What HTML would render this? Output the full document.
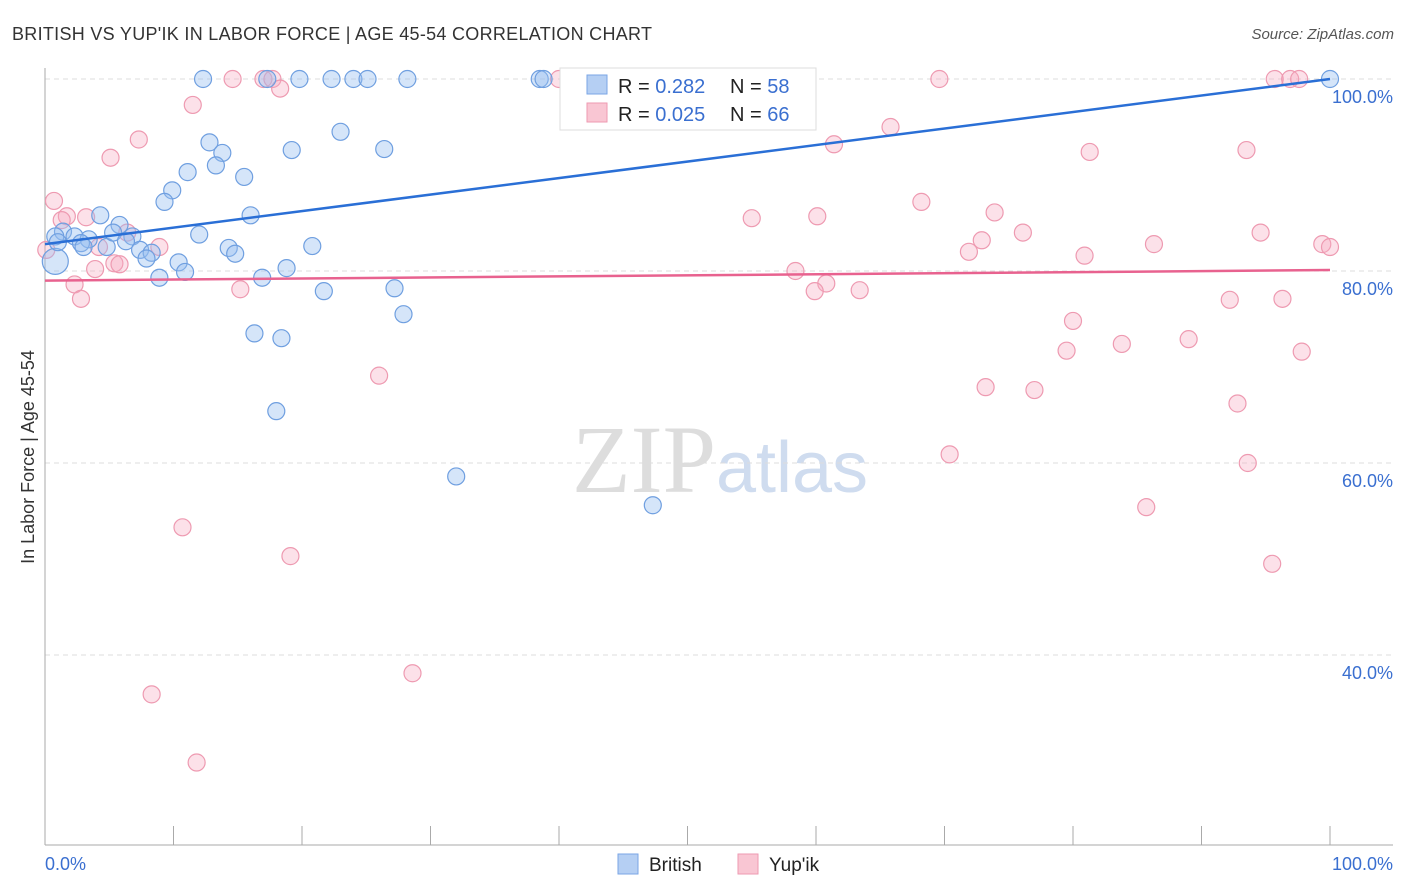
<!DOCTYPE html>
<html><head><meta charset="utf-8"><style>
body{margin:0;background:#fff;font-family:"Liberation Sans",sans-serif}
svg{display:block}
</style></head><body>
<svg id="c" width="1406" height="892">
<text x="12" y="40" font-size="18" fill="#333" textLength="640">BRITISH VS YUP'IK IN LABOR FORCE | AGE 45-54 CORRELATION CHART</text>
<text x="1394" y="39" font-size="15" fill="#555" font-style="italic" text-anchor="end">Source: ZipAtlas.com</text>
<text x="720" y="492" font-size="96" fill="#ddd" text-anchor="middle" font-family="Liberation Serif,serif">ZIP<tspan fill="#cfdcef" font-family="Liberation Sans,sans-serif" font-size="72">atlas</tspan></text>
<text transform="translate(34,457) rotate(-90)" font-size="18" fill="#333" text-anchor="middle">In Labor Force | Age 45-54</text>
<g id="axes"></g><g id="pts"></g><g id="lines"></g>
<g>
<rect x="560" y="68" width="256" height="62" fill="#fff" stroke="#ddd"/>
<rect x="587" y="75" width="20" height="19" fill="#b5cff3" stroke="#7aa6e6"/>
<rect x="587" y="103" width="20" height="19" fill="#f9c6d3" stroke="#ee9ab1"/>
<text x="618" y="93" font-size="20" fill="#222">R = <tspan fill="#3a6fd0">0.282</tspan><tspan x="730">N = </tspan><tspan fill="#3a6fd0">58</tspan></text>
<text x="618" y="121" font-size="20" fill="#222">R = <tspan fill="#3a6fd0">0.025</tspan><tspan x="730">N = </tspan><tspan fill="#3a6fd0">66</tspan></text>
</g>
<g>
<rect x="618" y="854" width="20" height="20" fill="#b5cff3" stroke="#7aa6e6"/>
<text x="649" y="871" font-size="19" fill="#222">British</text>
<rect x="738" y="854" width="20" height="20" fill="#f9c6d3" stroke="#ee9ab1"/>
<text x="769" y="871" font-size="19" fill="#222">Yup'ik</text>
</g>
</svg>
<script>
const yTicks=[100,80,60,40];
const xTickLabels=["0.0%","100.0%"];
const britishX=[12.3,17.3,19.8,22.3,24.0,25.1,28.2,38.5,38.8,100,47.8,52.1,43.2,12.8,13.8,19.2,23.0,26.4,11.1,13.3,9.9,15.5,9.3,16.0,4.3,5.8,1.4,2.3,3.4,2.8,4.8,5.3,6.8,6.3,7.4,8.3,7.9,12.0,14.3,14.8,20.8,10.4,10.9,8.9,16.9,18.8,21.7,27.2,27.9,16.3,18.4,18.0,32.0,47.3,0.8,0.8,1.0,3.0];
const britishY=[100,100,100,100,100,100,100,100,100,100,100,100,100,93.4,92.3,92.6,94.5,92.7,90.3,91.0,88.4,89.8,87.2,85.8,85.8,84.8,84.1,83.6,83.3,82.9,82.5,84.0,83.6,83.1,82.2,81.9,81.3,83.8,82.4,81.8,82.6,80.9,79.9,79.3,79.3,80.3,77.9,78.2,75.5,73.5,73.0,65.4,58.6,55.6,81.0,83.6,83.0,82.5];
const yupikX=[14.6,17.0,17.7,18.3,11.5,7.3,5.1,0.7,1.7,1.3,3.2,4.2,6.4,8.9,5.4,5.8,3.9,2.3,2.8,0.1,15.2,26.0,10.7,19.1,8.3,28.6,11.8,69.6,95.7,96.9,97.6,65.8,61.4,81.3,93.5,68.2,55.0,60.1,73.9,72.9,71.9,76.1,86.3,94.6,80.9,99.4,100,58.4,60.8,59.9,63.4,92.2,96.3,80.0,83.8,79.5,89.0,97.8,73.2,77.0,92.8,70.4,93.6,85.7,95.5,40.0];
const yupikY=[100,100,100,99.0,97.3,93.7,91.8,87.3,85.7,85.3,85.6,82.5,84.0,82.5,80.8,80.7,80.2,78.6,77.1,82.2,78.1,69.1,53.3,50.3,35.9,38.1,28.8,100,100,100,100,95.0,93.2,92.4,92.6,87.2,85.5,85.7,86.1,83.2,82.0,84.0,82.8,84.0,81.6,82.8,82.5,80.0,78.7,77.9,78.0,77.0,77.1,74.8,72.4,71.7,72.9,71.6,67.9,67.6,66.2,60.9,60.0,55.4,49.5,100];
const trendBritish=[82.8,100];
const trendYupik=[79.0,80.1];
const X0=45,X1=1330,YT=79,PX=9.6;
const xs=v=>X0+(X1-X0)*v/100;
const ys=v=>YT+(100-v)*PX;
const NS="http://www.w3.org/2000/svg";
function mk(t,a,p){const e=document.createElementNS(NS,t);for(const k in a)e.setAttribute(k,a[k]);p.appendChild(e);return e;}
const ax=document.getElementById('axes');
yTicks.forEach(t=>{
 const l=mk('line',{x1:45,x2:1393,y1:ys(t),y2:ys(t),stroke:'#ddd','stroke-dasharray':'5,4'},ax);
 
 
 const tx=mk('text',{x:1393,y:ys(t)+24,'font-size':18,fill:'#3a6fd0','text-anchor':'end'},ax);
 tx.textContent=t.toFixed(1)+'%';
 
 
});
const yl=mk('line',{x1:45,x2:45,y1:68,y2:845,stroke:'#aaa'},ax);


const xl=mk('line',{x1:45,x2:1393,y1:845,y2:845,stroke:'#aaa'},ax);


for(let i=1;i<=10;i++){const t=mk('line',{x1:xs(i*10),x2:xs(i*10),y1:826,y2:845,stroke:'#aaa'},ax);
 
 }
const t0=mk('text',{x:45,y:870,'font-size':18,fill:'#3a6fd0'},ax);t0.textContent=xTickLabels[0];


const t1=mk('text',{x:1393,y:870,'font-size':18,fill:'#3a6fd0','text-anchor':'end'},ax);t1.textContent=xTickLabels[1];


const pg=document.getElementById('pts');
yupikX.forEach((x,i)=>{const c=mk('circle',{cx:xs(x),cy:ys(yupikY[i]),r:8.5,fill:'rgba(246,170,192,0.35)',stroke:'#ee9ab1','stroke-width':1.2},pg);
 
 });
britishX.forEach((x,i)=>{const c=mk('circle',{cx:xs(x),cy:ys(britishY[i]),r:i==54?13:8.5,fill:'rgba(150,190,240,0.4)',stroke:'#6f9fe0','stroke-width':1.2},pg);
 
 });
const lg=document.getElementById('lines');
const lb=mk('line',{x1:xs(0),x2:xs(100),y1:ys(trendBritish[0]),y2:ys(trendBritish[1]),stroke:'#2a6fd6','stroke-width':2.5},lg);


const ly=mk('line',{x1:xs(0),x2:xs(100),y1:ys(trendYupik[0]),y2:ys(trendYupik[1]),stroke:'#e8628f','stroke-width':2.5},lg);


</script>
</body></html>
